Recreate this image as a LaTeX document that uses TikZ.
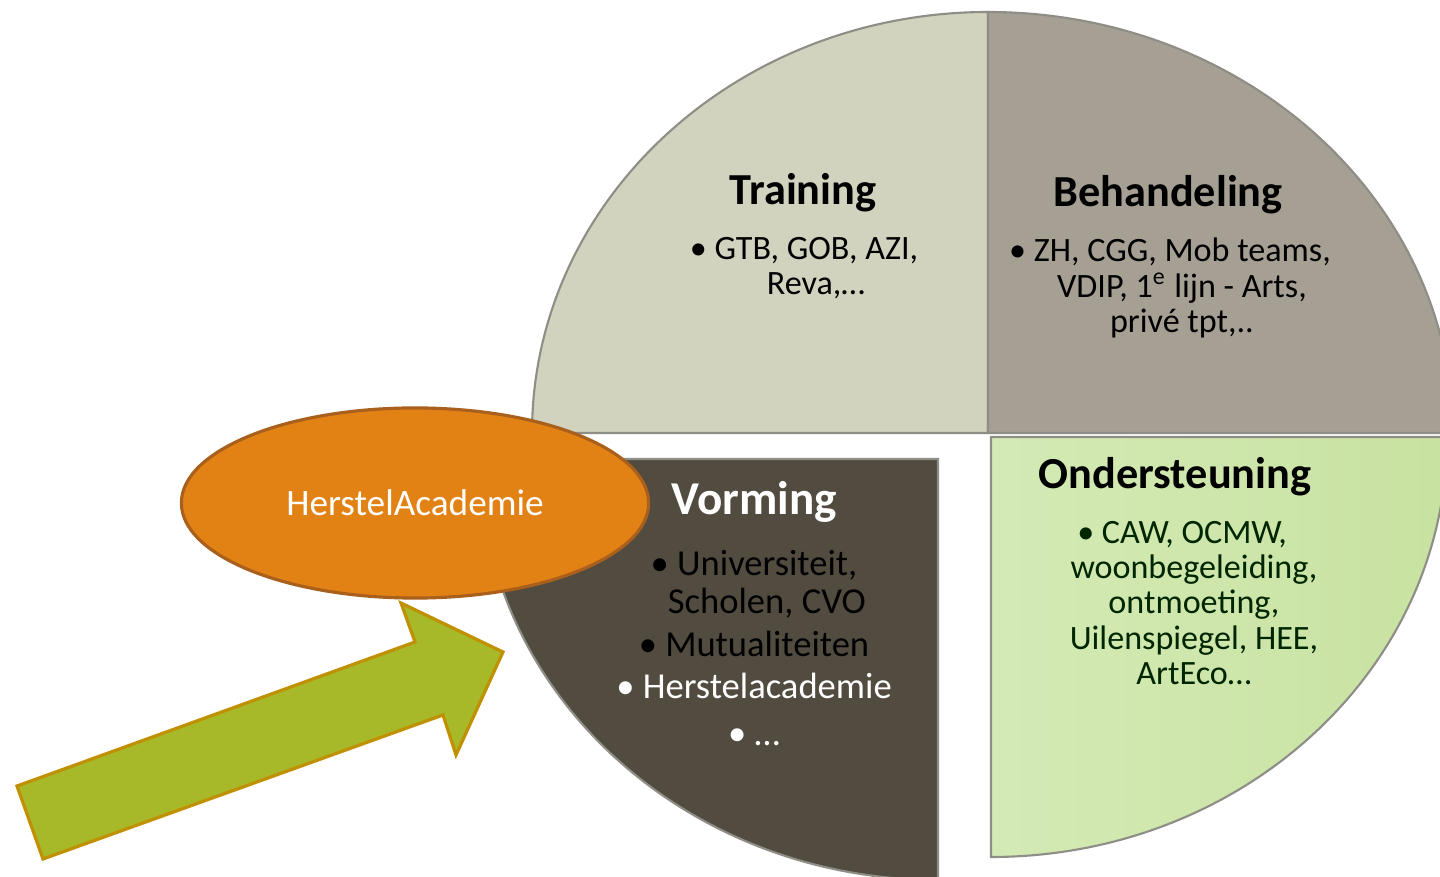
\documentclass[tikz,border=0pt]{standalone}
\usepackage{fontspec}
\setmainfont{Carlito}
\usepackage{tikz}
\usetikzlibrary{shapes.geometric}
\usetikzlibrary{positioning}
\definecolor{trainingc}{HTML}{D1D3BE}
\definecolor{behandelc}{HTML}{A69F94}
\definecolor{onderl}{HTML}{D4EAB5}
\definecolor{onderr}{HTML}{C8E2A1}
\definecolor{vormingc}{HTML}{524B40}
\definecolor{randc}{HTML}{8E8E86}
\definecolor{oranje}{HTML}{E38214}
\definecolor{oranjerand}{HTML}{A9601C}
\definecolor{pijlgroen}{HTML}{A7B828}
\definecolor{pijlrand}{HTML}{C09000}
\newcommand{\inspring}{\hspace*{0.7em}}
\tikzset{sector/.style = {draw=randc, line width=0.6pt}}
\tikzset{sectortitle/.style = {font=\fontsize{12.6}{15}\selectfont\bfseries}}
\tikzset{sectortext/.style = {align=center, font=\fontsize{9.7}{10}\selectfont}}

\begin{document}
\begin{tikzpicture}[x=0.01cm, y=-0.01cm]
      \clip (0, 0) rectangle (1440, 877);
      \fill [white] (0, 0) rectangle (1440, 877);

      \filldraw [sector, fill=trainingc] (988, 433) -- (532, 433) arc(180:270:456 and 421) -- cycle;
      \filldraw [sector, fill=behandelc] (988, 433) -- (988, 12) arc(270:360:465 and 421) -- cycle;
      \filldraw [sector, left color=onderl, right color=onderr] (991, 437) -- (1447, 437) arc(0:90:456 and 420) -- cycle;
      \filldraw [sector, fill=vormingc] (938, 459) -- (938, 880) arc(90:180:458 and 421) -- cycle;

      \node [sectortitle] (training) at (803, 193) {Training};
      \node [sectortext] (trainingtxt) at (804, 268) {\textbullet\ GTB, GOB, AZI,\\\inspring Reva,\ldots};

      \node [sectortitle] (behandeling) at (1168, 195) {Behandeling};
      \node [sectortext] (behandelingtxt) at (1170, 288) {\textbullet\ ZH, CGG, Mob teams,\\\inspring VDIP, 1\textsuperscript{e} lijn - Arts,\\\inspring priv\'e tpt,..};

      \node [sectortitle] (ondersteuning) at (1175, 477) {Ondersteuning};
      \node [sectortext, text=black!85!green] (ondersteuningtxt) at (1182, 603) {\textbullet\ CAW, OCMW,\\\inspring woonbegeleiding,\\\inspring ontmoeting,\\\inspring Uilenspiegel,\ HEE,\\\inspring ArtEco\ldots};

      \node [sectortitle, white, font=\fontsize{13.4}{16}\selectfont\bfseries] (vorming) at (754, 502) {Vorming};
      \node [sectortext, font=\fontsize{10.4}{10.8}\selectfont] (vormingtxt) at (754, 648) {\textbullet\ Universiteit,\\\inspring Scholen,\ CVO\\[1.2pt]\textbullet\ Mutualiteiten\\[1.2pt]\textcolor{white}{\textbullet\ Herstelacademie}\\[2.5pt]\textcolor{white}{\textbullet\ \ldots}};

      \node [ellipse, fill=oranje, draw=oranjerand, line width=0.9pt, minimum width=4.67cm, minimum height=1.90cm, inner sep=0pt, text=white, font=\fontsize{10.6}{12}\selectfont] (herstel) at (415, 503) {HerstelAcademie};

      \filldraw [fill=pijlgroen, draw=pijlrand, line width=0.9pt, line join=miter] (17, 786) -- (415, 642) -- (401, 603) -- (503, 652) -- (456, 755) -- (443, 715) -- (43, 859) -- cycle;
    \end{tikzpicture}
\end{document}
